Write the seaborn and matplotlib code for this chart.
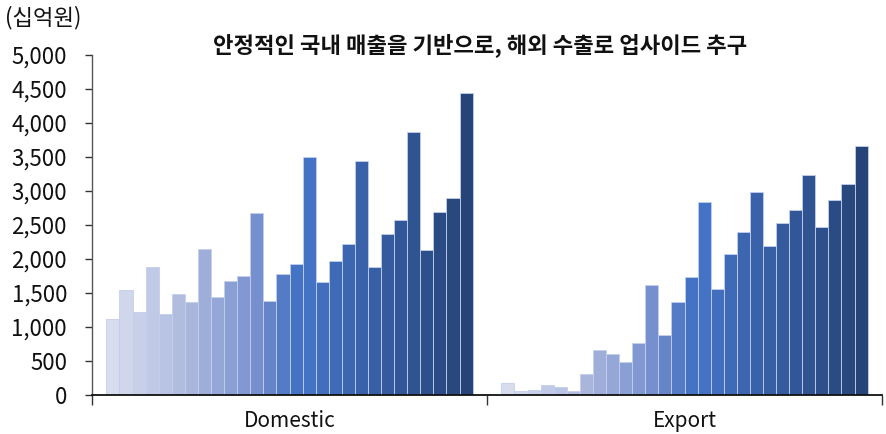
import numpy as np
import pandas as pd
import matplotlib
matplotlib.use("Agg")
import matplotlib.pyplot as plt
import matplotlib.ticker as mticker
from matplotlib.colors import LinearSegmentedColormap, to_hex
import seaborn as sns

categories = ["Domestic", "Export"]
domestic = [1118, 1539, 1225, 1877, 1191, 1485, 1373, 2142, 1436, 1676,
            1750, 2672, 1377, 1779, 1926, 3500, 1667, 1975, 2221, 3441,
            1877, 2368, 2569, 3863, 2127, 2686, 2902, 4436]
export = [171, 64, 74, 142, 118, 54, 309, 657, 608, 490,
          770, 1613, 887, 1363, 1740, 2833, 1554, 2068, 2402, 2980,
          2196, 2525, 2716, 3230, 2466, 2868, 3098, 3662]
yticks = list(range(0, 5001, 500))
title = "안정적인 국내 매출을 기반으로, 해외 수출로 업사이드 추구"
unit = "(십억원)"

n = len(domestic)
periods = [f"P{i+1}" for i in range(n)]
df = pd.DataFrame({
    "category": [categories[0]] * n + [categories[1]] * n,
    "period": periods + periods,
    "value": domestic + export,
})

stops = [(0.0, "#d7dcef"), (6/27, "#a9b5dc"), (11/27, "#7690cf"),
         (12/27, "#6485c8"), (14/27, "#4472c4"), (15/27, "#4472c4"),
         (1.0, "#264478")]
cmap = LinearSegmentedColormap.from_list("g", stops)
palette = [to_hex(cmap(i / (n - 1))) for i in range(n)]

sns.set_style("white")
plt.rcParams["font.family"] = ["Noto Sans CJK KR", "DejaVu Sans"]

fig = plt.figure(figsize=(8.86, 4.34), dpi=100)
ax = fig.add_axes([92/886, 1-395/434, 790/886, 340/434])

sns.barplot(data=df, x="category", y="value", hue="period", palette=palette,
            width=0.927, gap=0, edgecolor="#c3cfee", linewidth=0.6,
            legend=False, ax=ax, errorbar=None, saturation=1)

ax.set_ylim(0, 5000)
ax.set_xlim(-0.5, 1.5)
ax.set_yticks(yticks)
ax.yaxis.set_major_formatter(mticker.FuncFormatter(lambda v, p: f"{int(v):,}"))
ax.tick_params(axis="y", length=5, width=1, color="#333333", pad=13,
               labelsize=16, labelcolor="#111111", direction="out", left=True)
ax.set_xticks([0, 1])
ax.set_xticklabels(categories)
ax.set_xticks([-0.5, 0.5, 1.5], minor=True)
ax.tick_params(axis="x", which="major", length=0, pad=11, labelsize=15,
               labelcolor="#111111")
ax.tick_params(axis="x", which="minor", length=7, width=1, color="#333333",
               direction="out", bottom=True)
ax.set_xlabel("")
ax.set_ylabel("")
for s in ["top", "right"]:
    ax.spines[s].set_visible(False)
ax.spines["left"].set_color("#555555")
ax.spines["left"].set_linewidth(1)
ax.spines["bottom"].set_color("#111111")
ax.spines["bottom"].set_linewidth(1.3)

fig.text(480/886, 1-45/434, title, ha="center", va="center", fontsize=16,
         fontweight="bold", color="#111111")
fig.text(5/886, 1-18/434, unit, ha="left", va="center", fontsize=16,
         color="#111111")

fig.savefig("out.png", dpi=100)
